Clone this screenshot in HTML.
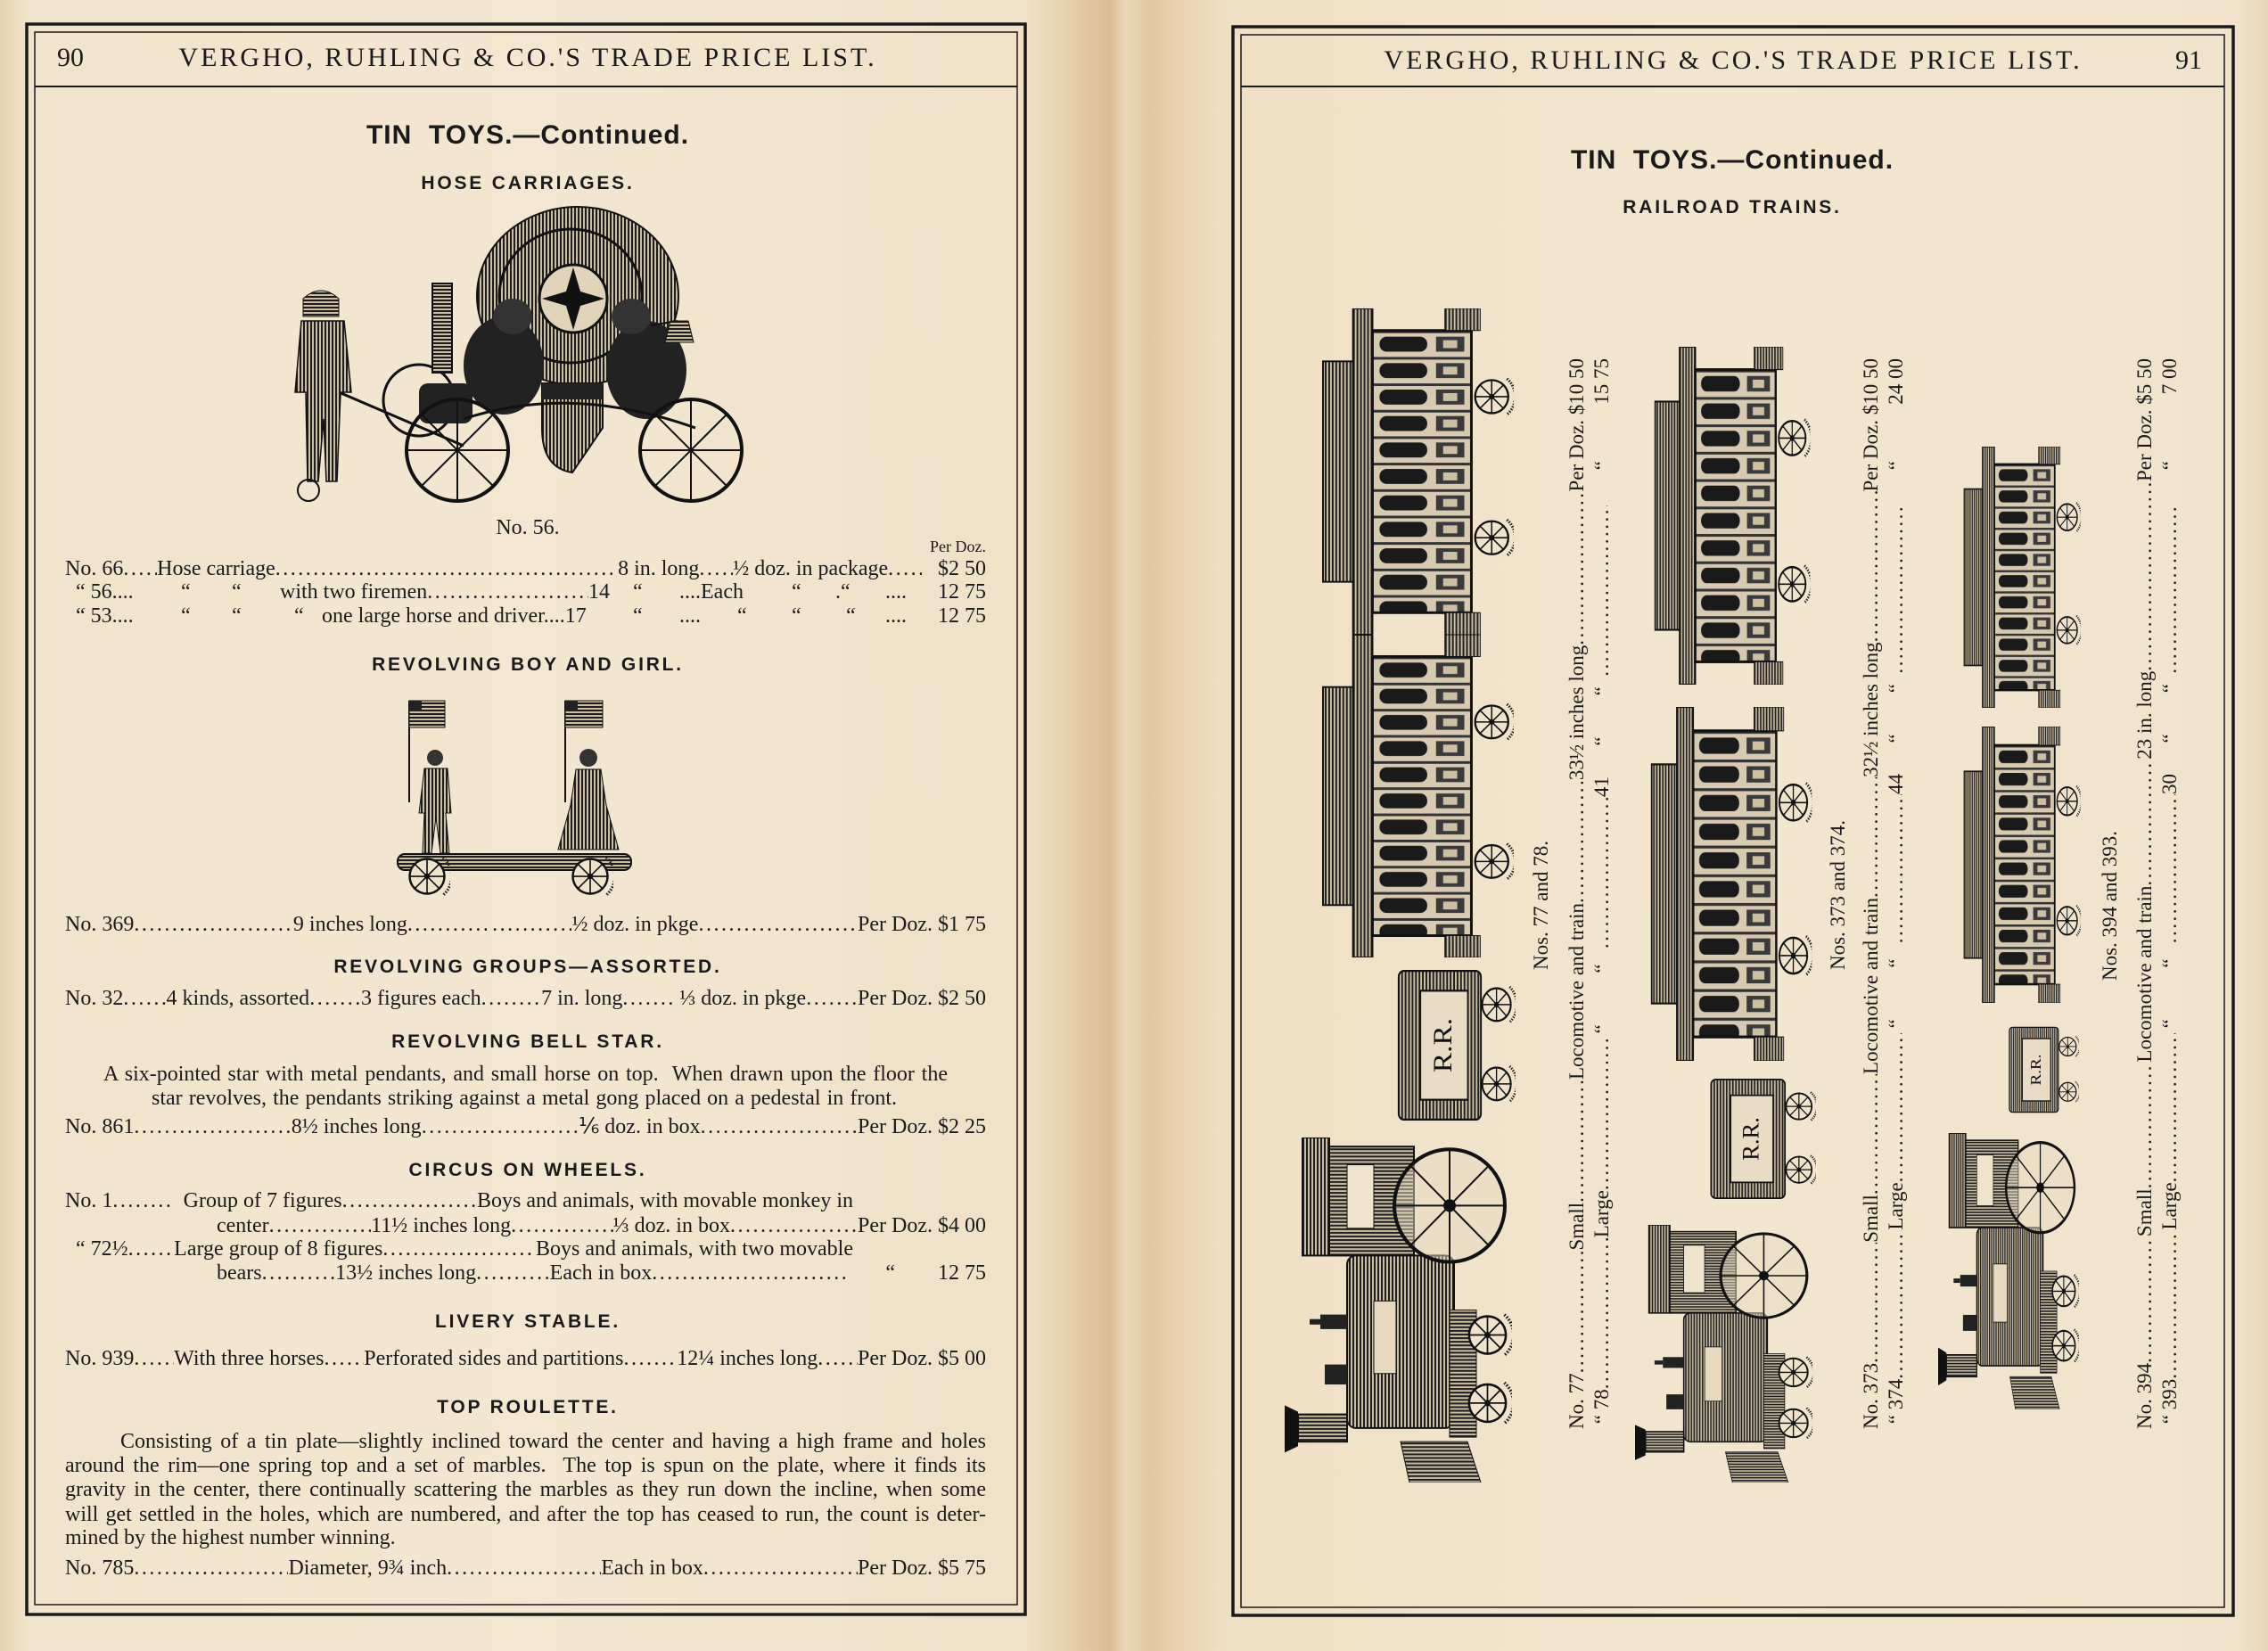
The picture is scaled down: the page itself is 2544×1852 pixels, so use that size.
<!DOCTYPE html>
<html><head><meta charset="utf-8">
<style>
html,body{margin:0;padding:0}
body{width:2544px;height:1852px;position:relative;overflow:hidden;
background:linear-gradient(90deg,#e6d2b2 0px,#f1e4cc 30px,#f3e7d1 600px,#f0e1c8 1150px,#e2c9a4 1215px,#d9bd95 1245px,#ead6b6 1262px,#e2c8a2 1290px,#efdfc4 1370px,#f3e6cf 1900px,#f1e3cb 2505px,#e8d6b8 2544px);
font-family:"Liberation Serif",serif;color:#1a1a1a}
.t{position:absolute;white-space:nowrap}
.hd{font-size:30px;line-height:32px;text-align:center;letter-spacing:3px}
.h1{font-family:"Liberation Sans",sans-serif;font-weight:bold;font-size:30px;line-height:32px;text-align:center;letter-spacing:1px}
.h2{font-family:"Liberation Sans",sans-serif;font-weight:bold;font-size:21px;line-height:24px;text-align:center;letter-spacing:2.8px}
.r{position:absolute;font-size:24px;line-height:26px;height:26px;display:flex;white-space:nowrap;overflow:hidden}
.r span{flex:none}
.r i{flex:1 1 0;min-width:0;overflow:hidden;font-style:normal;letter-spacing:2.5px}
.r i::before{content:"....................................................................................................................................................................................................................."}
.r b{flex:none;font-weight:normal}
.c{position:absolute;font-size:24px;line-height:26px;text-align:center;white-space:nowrap}
.j{position:absolute;left:73px;width:1033px;font-size:24px;line-height:27px;height:27px;text-align:justify;text-align-last:justify;white-space:nowrap}
.v{transform:rotate(-90deg);transform-origin:0 0;font-size:23px}
</style></head><body>
<svg width="2544" height="1852" style="position:absolute;left:0;top:0" xmlns="http://www.w3.org/2000/svg">
<defs>
<pattern id="hv" width="4" height="4" patternUnits="userSpaceOnUse"><rect width="4" height="4" fill="#cdbfa4"/><rect width="2" height="4" fill="#1e1e1e"/></pattern>
<pattern id="hh" width="4" height="4" patternUnits="userSpaceOnUse"><rect width="4" height="4" fill="#cdbfa4"/><rect width="4" height="2" fill="#1e1e1e"/></pattern>
<pattern id="win" x="58" y="25" width="112" height="30" patternUnits="userSpaceOnUse"><rect width="112" height="30" fill="#d8cab0"/><rect width="112" height="3" fill="#333"/><rect x="8" y="7" width="54" height="17" rx="8" fill="#1a1a1a"/><rect x="72" y="7" width="32" height="17" fill="#3a3a3a"/><rect x="80" y="11" width="16" height="9" fill="#cdbfa4"/></pattern>
<symbol id="wh" viewBox="-32 -32 64 64"><path d="M22-26A34 34 0 0 1 22 26" fill="none" stroke="#222" stroke-width="4" stroke-dasharray="2 2"/><circle r="24" fill="#efe3cc" stroke="#111" stroke-width="3"/><path d="M-24 0H24M0-24V24M-17-17L17 17M-17 17L17-17" stroke="#111" stroke-width="2"/><circle r="4" fill="#111"/></symbol>
<symbol id="car" viewBox="0 0 220 370" preserveAspectRatio="none">
<rect x="2" y="60" width="34" height="250" fill="url(#hv)" stroke="#111" stroke-width="2"/>
<rect x="36" y="0" width="22" height="370" fill="url(#hv)" stroke="#111" stroke-width="2"/>
<rect x="58" y="25" width="112" height="320" fill="url(#win)" stroke="#111" stroke-width="3"/>
<rect x="140" y="0" width="40" height="25" fill="url(#hv)" stroke="#111"/>
<rect x="140" y="345" width="40" height="25" fill="url(#hv)" stroke="#111"/>
<use href="#wh" x="168" y="75" width="50" height="50"/>
<use href="#wh" x="168" y="235" width="50" height="50"/>
</symbol>
<symbol id="loco" viewBox="0 0 260 380" preserveAspectRatio="none">
<rect x="20" y="0" width="30" height="130" fill="url(#hv)" stroke="#111" stroke-width="2"/>
<rect x="50" y="10" width="95" height="120" fill="url(#hh)" stroke="#111" stroke-width="2"/>
<rect x="70" y="30" width="30" height="70" fill="#efe3cc" stroke="#111"/>
<rect x="70" y="130" width="120" height="190" rx="10" fill="url(#hv)" stroke="#111" stroke-width="2"/>
<rect x="100" y="180" width="25" height="80" fill="#e6d9c0" stroke="#111"/>
<rect x="185" y="190" width="30" height="140" fill="url(#hh)" stroke="#111"/>
<circle cx="185" cy="75" r="62" fill="#e6d9c0" fill-opacity=".5" stroke="#111" stroke-width="4"/>
<path d="M123 75H247M185 13V137M141 31L229 119M141 119L229 31" stroke="#111" stroke-width="2"/>
<circle cx="185" cy="75" r="7" fill="#111"/>
<use href="#wh" x="200" y="190" width="55" height="55"/>
<use href="#wh" x="200" y="265" width="55" height="55"/>
<rect x="15" y="305" width="55" height="30" fill="url(#hh)" stroke="#111" stroke-width="2"/>
<polygon points="0,295 15,302 15,340 0,347" fill="#111"/>
<rect x="40" y="195" width="30" height="16" fill="#222"/><rect x="28" y="200" width="12" height="6" fill="#222"/>
<rect x="45" y="250" width="25" height="22" fill="#222"/>
<polygon points="130,335 205,335 220,380 140,380" fill="url(#hh)" stroke="#111"/>
</symbol>
<symbol id="tend" viewBox="0 0 140 170" preserveAspectRatio="none">
<rect x="5" y="10" width="95" height="150" rx="6" fill="url(#hv)" stroke="#111" stroke-width="2"/>
<rect x="30" y="30" width="55" height="110" fill="#e8dcc4" stroke="#111" stroke-width="2"/>
<text x="0" y="0" transform="translate(66 85) rotate(-90)" text-anchor="middle" font-family="Liberation Serif" font-size="30" fill="#111">R.R.</text>
<use href="#wh" x="96" y="22" width="44" height="44"/>
<use href="#wh" x="96" y="102" width="44" height="44"/>
</symbol>
</defs>
<rect x="30" y="27" width="1120" height="1784" fill="none" stroke="#1a1a1a" stroke-width="3.5"/>
<rect x="39" y="36" width="1102" height="1764" fill="none" stroke="#1a1a1a" stroke-width="1.5"/>
<line x1="39" y1="97" x2="1141" y2="97" stroke="#1a1a1a" stroke-width="2"/>
<rect x="1383" y="30" width="1122" height="1782" fill="none" stroke="#1a1a1a" stroke-width="3.5"/>
<rect x="1392" y="39" width="1103" height="1764" fill="none" stroke="#1a1a1a" stroke-width="1.5"/>
<line x1="1392" y1="97" x2="2495" y2="97" stroke="#1a1a1a" stroke-width="2"/>
<!-- hose carriage -->
<circle cx="470" cy="449" r="40" fill="none" stroke="#111" stroke-width="3"/>
<ellipse cx="648" cy="332" rx="113" ry="100" fill="url(#hv)" stroke="#111" stroke-width="2"/>
<ellipse cx="640" cy="332" rx="80" ry="75" fill="none" stroke="#111" stroke-width="3"/>
<circle cx="643" cy="335" r="38" fill="#e0d3ba" stroke="#111" stroke-width="3"/>
<path d="M643 300L651 327L678 335L651 343L643 370L635 343L608 335L635 327Z" fill="#111"/>
<rect x="485" y="318" width="22" height="100" fill="url(#hh)" stroke="#111" stroke-width="2"/>
<ellipse cx="565" cy="410" rx="45" ry="55" fill="#222"/>
<ellipse cx="575" cy="355" rx="22" ry="20" fill="#333"/>
<ellipse cx="725" cy="415" rx="45" ry="55" fill="#222"/>
<ellipse cx="708" cy="355" rx="22" ry="20" fill="#333"/>
<path d="M730 365L760 360" stroke="#111" stroke-width="2"/>
<path d="M752 360h20l6 24h-32z" fill="url(#hh)" stroke="#111"/>
<rect x="470" y="430" width="60" height="45" rx="10" fill="#222"/>
<path d="M608 430h68v50q-34 50-34 50q-34-5-34-50z" fill="url(#hv)" stroke="#111" stroke-width="2"/>
<rect x="608" y="430" width="68" height="18" fill="#222"/>
<path d="M380 440L520 500M520 470Q640 430 780 480" fill="none" stroke="#111" stroke-width="3"/>
<circle cx="513" cy="505" r="57" fill="none" stroke="#111" stroke-width="4"/>
<path d="M456 505H570M513 448V562M473 465L553 545M473 545L553 465" stroke="#111" stroke-width="2"/>
<circle cx="775" cy="505" r="57" fill="none" stroke="#111" stroke-width="4"/>
<path d="M718 505H832M775 448V562M735 465L815 545M735 545L815 465" stroke="#111" stroke-width="2"/>
<path d="M340 335q20-18 40 0v20h-40z" fill="url(#hh)" stroke="#111"/>
<path d="M338 360h48l8 80h-12l-4 100h-12l-3-70-6 70h-12l-2-100h-12z" fill="url(#hv)" stroke="#111" stroke-width="1.5"/>
<circle cx="346" cy="550" r="12" fill="none" stroke="#111" stroke-width="2"/>
<!-- boy and girl -->
<line x1="459" y1="786" x2="459" y2="900" stroke="#111" stroke-width="2"/>
<rect x="459" y="786" width="40" height="30" fill="url(#hh)" stroke="#111"/>
<rect x="459" y="786" width="14" height="12" fill="#222"/>
<line x1="634" y1="786" x2="634" y2="900" stroke="#111" stroke-width="2"/>
<rect x="634" y="786" width="42" height="30" fill="url(#hh)" stroke="#111"/>
<rect x="634" y="786" width="14" height="12" fill="#222"/>
<circle cx="488" cy="850" r="9" fill="#333"/>
<path d="M476 862h26l4 50h-6l4 45h-10l-5-40-5 40h-10l2-45h-6z" fill="url(#hv)" stroke="#111"/>
<circle cx="660" cy="850" r="10" fill="#333"/>
<path d="M646 863h28l6 40l14 50h-68l14-50z" fill="url(#hv)" stroke="#111"/>
<rect x="446" y="958" width="262" height="18" rx="8" fill="url(#hh)" stroke="#111" stroke-width="2"/>
<use href="#wh" x="453" y="957" width="52" height="52"/>
<use href="#wh" x="636" y="957" width="52" height="52"/>
<!-- trains -->
<use href="#car" x="1482" y="346" width="218" height="366"/>
<use href="#car" x="1482" y="712" width="218" height="362"/>
<use href="#tend" x="1564" y="1078" width="136" height="189"/>
<use href="#loco" x="1441" y="1276" width="260" height="387"/>
<use href="#car" x="1855" y="389" width="177" height="379"/>
<use href="#car" x="1851" y="793" width="183" height="397"/>
<use href="#tend" x="1915" y="1202" width="122" height="151"/>
<use href="#loco" x="1834" y="1374" width="203" height="289"/>
<use href="#car" x="2202" y="501" width="133" height="293"/>
<use href="#car" x="2202" y="815" width="133" height="310"/>
<use href="#tend" x="2251" y="1146" width="81" height="108"/>
<use href="#loco" x="2174" y="1271" width="161" height="310"/>
</svg>

<!-- LEFT PAGE -->
<div class="t" style="left:64px;top:49px;font-size:30px;line-height:32px">90</div>
<div class="t hd" style="left:192px;top:49px;width:800px">VERGHO, RUHLING &amp; CO.'S TRADE PRICE LIST.</div>
<div class="t h1" style="left:292px;top:136px;width:600px">TIN&nbsp; TOYS.—Continued.</div>
<div class="t h2" style="left:292px;top:194px;width:600px">HOSE CARRIAGES.</div>
<div class="c" style="left:492px;top:579px;width:200px">No. 56.</div>
<div class="t" style="left:1006px;top:603px;width:100px;text-align:right;font-size:18px;line-height:20px">Per Doz.</div>

<div class="r" style="left:73px;top:625px;width:1033px"><span>No. 66</span><i style="flex-grow:.3"></i><span>Hose carriage</span><i style="flex-grow:3"></i><span>&nbsp;8 in. long</span><i style="flex-grow:.3"></i><span>½ doz. in package</span><i style="flex-grow:.3"></i><span>&nbsp;&nbsp; $2 50</span></div>
<div class="t" style="left:85px;top:651px;font-size:24px;line-height:26px">“ 56....</div>
<div class="t" style="left:203px;top:651px;font-size:24px;line-height:26px">“</div>
<div class="t" style="left:260px;top:651px;font-size:24px;line-height:26px">“</div>
<div class="r" style="left:314px;top:651px;width:370px"><span>with two firemen</span><i></i><span>14</span></div>
<div class="t" style="left:710px;top:651px;font-size:24px;line-height:26px">“</div>
<div class="t" style="left:762px;top:651px;font-size:24px;line-height:26px">....Each</div>
<div class="t" style="left:888px;top:651px;font-size:24px;line-height:26px">“</div>
<div class="t" style="left:937px;top:651px;font-size:24px;line-height:26px">.“</div>
<div class="t" style="left:993px;top:651px;font-size:24px;line-height:26px">....</div>
<div class="t" style="left:1046px;top:651px;width:60px;text-align:right;font-size:24px;line-height:26px">12 75</div>
<div class="t" style="left:85px;top:678px;font-size:24px;line-height:26px">“ 53....</div>
<div class="t" style="left:203px;top:678px;font-size:24px;line-height:26px">“</div>
<div class="t" style="left:260px;top:678px;font-size:24px;line-height:26px">“</div>
<div class="t" style="left:330px;top:678px;font-size:24px;line-height:26px">“</div>
<div class="t" style="left:361px;top:678px;font-size:24px;line-height:26px">one large horse and driver....17</div>
<div class="t" style="left:710px;top:678px;font-size:24px;line-height:26px">“</div>
<div class="t" style="left:762px;top:678px;font-size:24px;line-height:26px">....</div>
<div class="t" style="left:827px;top:678px;font-size:24px;line-height:26px">“</div>
<div class="t" style="left:888px;top:678px;font-size:24px;line-height:26px">“</div>
<div class="t" style="left:949px;top:678px;font-size:24px;line-height:26px">“</div>
<div class="t" style="left:993px;top:678px;font-size:24px;line-height:26px">....</div>
<div class="t" style="left:1046px;top:678px;width:60px;text-align:right;font-size:24px;line-height:26px">12 75</div>

<div class="t h2" style="left:292px;top:734px;width:600px">REVOLVING BOY AND GIRL.</div>
<div class="r" style="left:73px;top:1024px;width:1033px"><span>No. 369</span><i></i><span>9 inches long</span><i style="flex-grow:.5"></i><span>&nbsp;</span><i style="flex-grow:.5"></i><span>½ doz. in pkge</span><i></i><span>Per Doz. $1 75</span></div>
<div class="t h2" style="left:292px;top:1073px;width:600px">REVOLVING GROUPS—ASSORTED.</div>
<div class="r" style="left:73px;top:1107px;width:1033px"><span>No. 32</span><i style="flex-grow:.5"></i><span>4 kinds, assorted</span><i style="flex-grow:.6"></i><span>3 figures each</span><i style="flex-grow:.7"></i><span>7 in. long</span><i style="flex-grow:.6"></i><span>&nbsp;⅓ doz. in pkge</span><i style="flex-grow:.6"></i><span>Per Doz. $2 50</span></div>
<div class="t h2" style="left:292px;top:1157px;width:600px">REVOLVING BELL STAR.</div>
<div class="j" style="left:116px;width:947px;top:1192px">A six-pointed star with metal pendants, and small horse on top.&nbsp; When drawn upon the floor the</div>
<div class="j" style="left:170px;width:836px;top:1219px">star revolves, the pendants striking against a metal gong placed on a pedestal in front.</div>
<div class="r" style="left:73px;top:1251px;width:1033px"><span>No. 861</span><i></i><span>8½ inches long</span><i></i><span>⅙ doz. in box</span><i></i><span>Per Doz. $2 25</span></div>
<div class="t h2" style="left:292px;top:1301px;width:600px">CIRCUS ON WHEELS.</div>
<div class="r" style="left:73px;top:1334px;width:884px"><span>No. 1</span><i style="flex-grow:.4"></i><span>&nbsp; Group of 7 figures</span><i style="flex-grow:.9"></i><span>Boys and animals, with movable monkey in</span></div>
<div class="r" style="left:243px;top:1362px;width:863px"><span>center</span><i style="flex-grow:.8"></i><span>11½ inches long</span><i style="flex-grow:.8"></i><span>⅓ doz. in box</span><i></i><span>Per Doz. $4 00</span></div>
<div class="r" style="left:85px;top:1388px;width:872px"><span>“ 72½</span><i style="flex-grow:.3"></i><span>Large group of 8 figures </span><i></i><span>Boys and animals, with two movable</span></div>
<div class="r" style="left:243px;top:1415px;width:863px"><span>bears</span><i style="flex-grow:.6"></i><span>13½ inches long</span><i style="flex-grow:.6"></i><span>Each in box</span><i style="flex-grow:1.6"></i><span>&nbsp;&nbsp;&nbsp;&nbsp;&nbsp;&nbsp;&nbsp;“ &nbsp;&nbsp;&nbsp;&nbsp;&nbsp;&nbsp; 12 75</span></div>
<div class="t h2" style="left:292px;top:1471px;width:600px">LIVERY STABLE.</div>
<div class="r" style="left:73px;top:1511px;width:1033px"><span>No. 939</span><i style="flex-grow:.3"></i><span>With three horses</span><i style="flex-grow:.3"></i><span>Perforated sides and partitions</span><i style="flex-grow:.4"></i><span>12¼ inches long</span><i style="flex-grow:.3"></i><span>Per Doz. $5 00</span></div>
<div class="t h2" style="left:292px;top:1567px;width:600px">TOP ROULETTE.</div>
<div class="j" style="top:1604px;left:135px;width:971px">Consisting of a tin plate—slightly inclined toward the center and having a high frame and holes</div>
<div class="j" style="top:1631px">around the rim—one spring top and a set of marbles.&nbsp; The top is spun on the plate, where it finds its</div>
<div class="j" style="top:1658px">gravity in the center, there continually scattering the marbles as they run down the incline, when some</div>
<div class="j" style="top:1686px">will get settled in the holes, which are numbered, and after the top has ceased to run, the count is deter-</div>
<div class="j" style="top:1712px;text-align-last:left">mined by the highest number winning.</div>
<div class="r" style="left:73px;top:1746px;width:1033px"><span>No. 785</span><i></i><span>Diameter, 9¾ inch</span><i></i><span>Each in box</span><i></i><span>Per Doz. $5 75</span></div>

<!-- RIGHT PAGE -->
<div class="t hd" style="left:1544px;top:52px;width:800px">VERGHO, RUHLING &amp; CO.'S TRADE PRICE LIST.</div>
<div class="t" style="left:2440px;top:52px;font-size:30px;line-height:32px">91</div>
<div class="t h1" style="left:1643px;top:164px;width:600px">TIN&nbsp; TOYS.—Continued.</div>
<div class="t h2" style="left:1643px;top:221px;width:600px">RAILROAD TRAINS.</div>

<div class="t v" style="left:1716px;top:1088px;font-size:23px;line-height:26px">Nos. 77 and 78.</div>
<div class="r v" style="left:1756px;top:1603px;width:1201px"><span>No. 77</span><i style="flex-grow:.8"></i><span>Small</span><i style="flex-grow:.8"></i><span>Locomotive and train</span><i style="flex-grow:.8"></i><span>33½ inches long</span><i style="flex-grow:1"></i><span>Per Doz. $10 50</span></div>
<div class="r v" style="left:1784px;top:1603px;width:1201px"><span>&nbsp;“ 78</span><i style="flex-grow:.8"></i><span>Large</span><i style="flex-grow:.8"></i><span>&nbsp;“ &nbsp;&nbsp;&nbsp;&nbsp;&nbsp;&nbsp;&nbsp;&nbsp; “ &nbsp;&nbsp;</span><i style="flex-grow:.8"></i><span>41 &nbsp;&nbsp;&nbsp;&nbsp; “ &nbsp;&nbsp;&nbsp;&nbsp;&nbsp;&nbsp; “ &nbsp;</span><i style="flex-grow:.9"></i><span>&nbsp;&nbsp;&nbsp;&nbsp;&nbsp;&nbsp; “ &nbsp;&nbsp;&nbsp;&nbsp;&nbsp;&nbsp;&nbsp;&nbsp;&nbsp; 15 75</span></div>
<div class="t v" style="left:2049px;top:1088px;font-size:23px;line-height:26px">Nos. 373 and 374.</div>
<div class="r v" style="left:2086px;top:1603px;width:1201px"><span>No. 373</span><i style="flex-grow:.8"></i><span>Small</span><i style="flex-grow:.8"></i><span>Locomotive and train</span><i style="flex-grow:.8"></i><span>32½ inches long</span><i style="flex-grow:1"></i><span>Per Doz. $10 50</span></div>
<div class="r v" style="left:2114px;top:1603px;width:1201px"><span>&nbsp;“ 374</span><i style="flex-grow:.8"></i><span>Large</span><i style="flex-grow:.8"></i><span>&nbsp;“ &nbsp;&nbsp;&nbsp;&nbsp;&nbsp;&nbsp;&nbsp;&nbsp; “ &nbsp;&nbsp;</span><i style="flex-grow:.8"></i><span>44 &nbsp;&nbsp;&nbsp;&nbsp; “ &nbsp;&nbsp;&nbsp;&nbsp;&nbsp;&nbsp; “ &nbsp;</span><i style="flex-grow:.9"></i><span>&nbsp;&nbsp;&nbsp;&nbsp;&nbsp;&nbsp; “ &nbsp;&nbsp;&nbsp;&nbsp;&nbsp;&nbsp;&nbsp;&nbsp;&nbsp; 24 00</span></div>
<div class="t v" style="left:2354px;top:1100px;font-size:23px;line-height:26px">Nos. 394 and 393.</div>
<div class="r v" style="left:2393px;top:1603px;width:1201px"><span>No. 394</span><i style="flex-grow:.8"></i><span>Small</span><i style="flex-grow:.8"></i><span>Locomotive and train</span><i style="flex-grow:.8"></i><span>23 in. long</span><i style="flex-grow:1.2"></i><span>Per Doz. $5 50</span></div>
<div class="r v" style="left:2421px;top:1603px;width:1201px"><span>&nbsp;“ 393</span><i style="flex-grow:.8"></i><span>Large</span><i style="flex-grow:.8"></i><span>&nbsp;“ &nbsp;&nbsp;&nbsp;&nbsp;&nbsp;&nbsp;&nbsp;&nbsp; “ &nbsp;&nbsp;</span><i style="flex-grow:.8"></i><span>30 &nbsp;&nbsp;&nbsp;&nbsp; “ &nbsp;&nbsp;&nbsp;&nbsp;&nbsp;&nbsp; “ &nbsp;</span><i style="flex-grow:.9"></i><span>&nbsp;&nbsp;&nbsp;&nbsp;&nbsp;&nbsp; “ &nbsp;&nbsp;&nbsp;&nbsp;&nbsp;&nbsp;&nbsp;&nbsp;&nbsp;&nbsp;&nbsp; 7 00</span></div>
</body></html>
